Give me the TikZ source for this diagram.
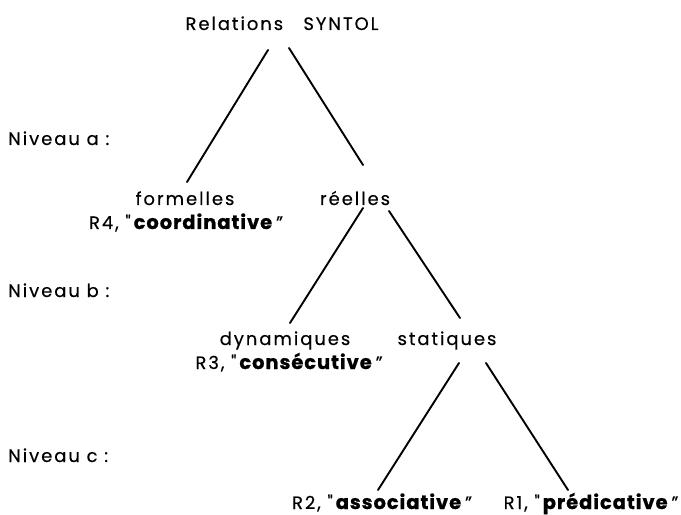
\documentclass[tikz,border=0pt]{standalone}
\usepackage{fontspec}
\setmainfont{Poppins}[UprightFeatures={LetterSpace=11,FakeBold=0.4},BoldFeatures={LetterSpace=5,FakeBold=0.9}]
\newfontfamily\qf{Poppins}[FakeBold=0.4]
\newcommand{\oq}{{\qf"}}
\newcommand{\bw}[1]{{\fontsize{19.5}{21}\selectfont\textbf{#1}}}
\begin{document}
\begin{tikzpicture}[x=1bp,y=-1bp,
  lab/.style={inner sep=0pt,anchor=base,font=\fontsize{18}{21}\selectfont},
  lvl/.style={inner sep=0pt,anchor=base west,font=\fontsize{18}{21}\selectfont},
  edge/.style={line width=1.9bp,line cap=round}]
\useasboundingbox (0,0) rectangle (681,515);
% labels
\node[lab] (top) at (282,30) {Relations\ \ \ SYNTOL};
\node[lvl] (na) at (8,145) {Niveau a :};
\node[lvl] (nb) at (8,297) {Niveau b :};
\node[lvl] (nc) at (8,462) {Niveau c :};
\node[lab] (form) at (185,205) {formelles};
\node[lab] (r4) at (186,229) {R4, \oq\,\bw{coordinative}\,”};
\node[lab] (reel) at (355,205) {réelles};
\node[lab] (dyn) at (285,345) {dynamiques};
\node[lab] (r3) at (289,369) {R3, \oq\,\bw{consécutive}\,”};
\node[lab] (stat) at (447,345) {statiques};
\node[lab] (r2) at (382,509) {R2, \oq\,\bw{associative}\,”};
\node[lab] (r1) at (591,509) {R1, \oq\,\bw{prédicative}\,”};
% line ends
\coordinate (t1) at (268,50);
\coordinate (t2) at (289,48);
\coordinate (f1) at (187,182);
\coordinate (e1) at (363,165);
\coordinate (e2) at (363,208);
\coordinate (e3) at (389,211);
\coordinate (d1) at (290,323);
\coordinate (s1) at (460,318);
\coordinate (s2) at (459,363);
\coordinate (s3) at (486,363);
\coordinate (a1) at (378,490);
\coordinate (p1) at (568,490);
\draw[edge] (t1) -- (f1);
\draw[edge] (t2) -- (e1);
\draw[edge] (e2) -- (d1);
\draw[edge] (e3) -- (s1);
\draw[edge] (s2) -- (a1);
\draw[edge] (s3) -- (p1);
\end{tikzpicture}
\end{document}
